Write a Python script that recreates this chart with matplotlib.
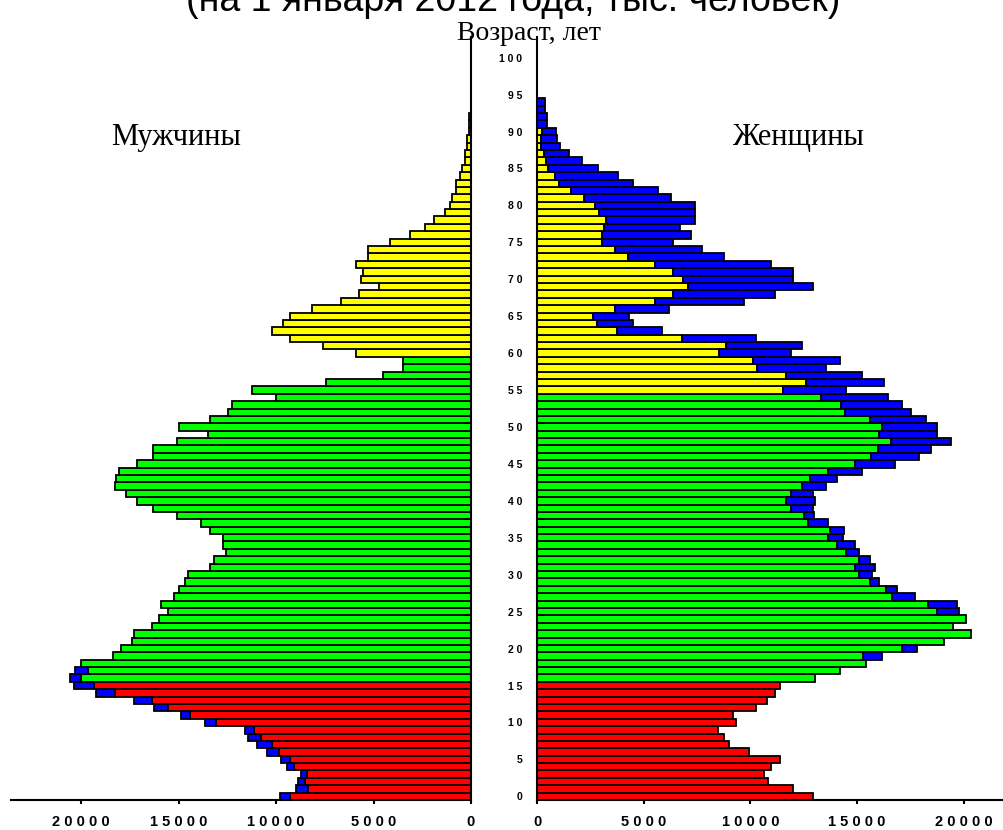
import matplotlib
matplotlib.use("Agg")
import matplotlib.pyplot as plt
import numpy as np

# DATA

# men, total bar length per age 0..92
male_total = [9790, 8980, 8860, 8740, 9450, 9750, 10450, 11000, 11460, 11580,
              13640, 14900, 16260, 17280, 19220, 20360, 20580, 20340, 20000, 18380,
              17970, 17380, 17280, 16360, 16030, 15550, 15900, 15230, 14970, 14660,
              14530, 13380, 13160, 12590, 12700, 12700, 13380, 13840, 15090, 16340,
              17140, 17710, 18290, 18190, 18050, 17140, 16340, 16340, 15090, 13500,
              14970, 13380, 12470, 12250, 9980, 11220, 7460, 4520, 3490, 3490,
              5890, 7600, 9310, 10220, 9650, 9310, 8160, 6670, 5770, 4740,
              5650, 5540, 5890, 5300, 5300, 4180, 3150, 2340, 1880, 1320,
              1100, 980, 750, 750, 550, 440, 330, 330, 220, 200,
              120, 100, 80]

# men, coloured part for ages 0..17 (rest is blue); older ages have no blue
male_inner = [9310, 8380, 8500, 8420, 9070, 9270, 9860, 10220, 10780, 11120,
              13070, 14410, 15550, 16370, 18290, 19320, 20000, 19660]

# women, total bar length per age 0..94
female_total = [12950, 12010, 10840, 10650, 10960, 11380, 9910, 8990, 8760, 8460,
                9300, 9180, 10240, 10760, 11170, 11370, 13030, 14180, 15420, 16170,
                17810, 19060, 20330, 19480, 20110, 19800, 19670, 17720, 16860, 16040,
                15720, 15840, 15610, 15110, 14900, 14360, 14390, 13650, 12990, 12950,
                13040, 12950, 13540, 14060, 15230, 16780, 17920, 18450, 19390, 18730,
                18730, 18230, 17510, 17090, 16470, 14480, 16260, 15230, 13540, 14200,
                11880, 12420, 10240, 5870, 4470, 4290, 6160, 9700, 11170, 12950,
                11980, 12010, 10950, 8770, 7730, 6380, 7230, 6690, 7410, 7410,
                7410, 6270, 5650, 4500, 3770, 2860, 2110, 1490, 1060, 940,
                860, 440, 440, 350, 360]

# women, coloured part per age 0..94 (the rest up to total is blue)
female_inner = [12950, 12010, 10840, 10650, 10960, 11380, 9910, 8990, 8760, 8460,
                9300, 9180, 10240, 10760, 11170, 11370, 13030, 14180, 15420, 15290,
                17090, 19060, 20330, 19480, 20110, 18730, 18340, 16650, 16340, 15610,
                15090, 14900, 15090, 14480, 14040, 13640, 13730, 12710, 12510, 11880,
                11670, 11880, 12400, 12790, 13650, 14900, 15640, 15970, 16580, 16040,
                16150, 15610, 14430, 14250, 13310, 11540, 12600, 11670, 10290, 10100,
                8520, 8840, 6770, 3720, 2790, 2600, 3640, 5520, 6350, 7050,
                6850, 6350, 5520, 4270, 3640, 3020, 3020, 3130, 3220, 2910,
                2710, 2190, 1570, 1030, 830, 520, 410, 310, 160, 160,
                200, 0, 0, 0, 0]

x_ticks = [0, 5000, 10000, 15000, 20000]
x_labels = ["0", "5 0 0 0", "1 0 0 0 0", "1 5 0 0 0", "2 0 0 0 0"]
age_ticks = list(range(0, 101, 5))

#%%

W, H = 1004, 830
fig = plt.figure(figsize=(W / 100, H / 100), dpi=100)
fig.set_facecolor("white")

# axes boxes in pixels
ax_m = fig.add_axes([11 / W, 30 / H, 460 / W, 763 / H])
ax_f = fig.add_axes([537.3 / W, 30 / H, 466 / W, 763 / H])


def age_colour(age, retire):
    if age <= 15:
        return "#ff0000"
    if age < retire:
        return "#00ff00"
    return "#ffff00"


def draw_side(ax, total, inner, retire):
    total = np.array(total, dtype=float)
    inner = np.array(inner, dtype=float)
    ages = np.arange(len(total))
    cols = [age_colour(a, retire) for a in ages]
    keep = inner > 0
    ax.barh(ages[keep], inner[keep], height=1.0,
            color=[c for c, k in zip(cols, keep) if k],
            edgecolor="black", linewidth=1.3)
    extra = total - inner
    bl = extra > 0
    ax.barh(ages[bl], extra[bl], left=inner[bl], height=1.0,
            color="#0000ff", edgecolor="black", linewidth=1.3)


m_inner = male_inner + male_total[len(male_inner):]
draw_side(ax_m, male_total, m_inner, 60)
draw_side(ax_f, female_total, female_inner, 55)

tick_font = dict(family="Liberation Sans", weight="bold", size=10.5)

# men: reversed axis, spines bottom + right
ax_m.set_xlim(23600, 0)
ax_m.set_ylim(-0.5, 102.8)
for s in ["top", "left"]:
    ax_m.spines[s].set_visible(False)
for s in ["bottom", "right"]:
    ax_m.spines[s].set_linewidth(1.5)
ax_m.set_yticks([])
ax_m.set_xticks(x_ticks)
ax_m.set_xticklabels(x_labels, fontdict=tick_font)
ax_m.tick_params(axis="x", direction="out", length=3, width=1.5, pad=8)

# women: spines bottom + left, ages as y labels
ax_f.set_xlim(0, 21860)
ax_f.set_ylim(-0.5, 102.8)
for s in ["top", "right"]:
    ax_f.spines[s].set_visible(False)
for s in ["bottom", "left"]:
    ax_f.spines[s].set_linewidth(1.5)
ax_f.set_xticks(x_ticks)
ax_f.set_xticklabels(x_labels, fontdict=tick_font)
ax_f.tick_params(axis="x", direction="out", length=3, width=1.5, pad=8)
ax_f.set_yticks(age_ticks)
ax_f.set_yticklabels([" ".join(str(a)) for a in age_ticks],
                     fontdict=dict(family="Liberation Sans", weight="bold", size=7.5))
ax_f.tick_params(axis="y", length=0, pad=11)

# texts
fig.text(513 / W, 1 - 11 / H, "(на 1 января 2012 года, тыс. человек)",
         ha="center", va="baseline", fontsize=27, family="Liberation Sans")
fig.text(529 / W, 1 - 40 / H, "Возраст, лет", ha="center", va="baseline",
         fontsize=20, family="Liberation Serif")
fig.text(176 / W, 1 - 145 / H, "Мужчины", ha="center", va="baseline",
         fontsize=22, family="Liberation Serif")
fig.text(798 / W, 1 - 145 / H, "Женщины", ha="center", va="baseline",
         fontsize=22, family="Liberation Serif")

fig.savefig("out.png", dpi=100)
